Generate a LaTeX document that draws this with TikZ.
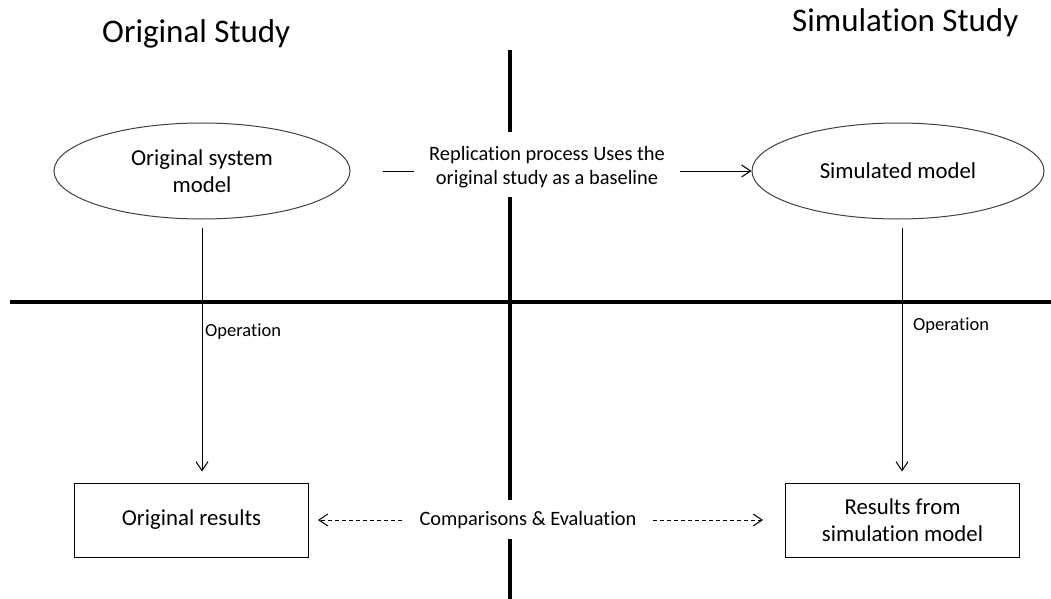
\documentclass[tikz,border=0pt]{standalone}
\usepackage{fontspec}
\setmainfont[Ligatures=NoCommon]{Carlito}
\usetikzlibrary{arrows.meta,shapes.geometric}
\newcommand\ftitle{\fontsize{33}{39}\selectfont}
\newcommand\fnodetext{\fontsize{22.8}{27.5}\selectfont}
\newcommand\flabel{\fontsize{20.4}{24.5}\selectfont}
\newcommand\fop{\fontsize{18.5}{22}\selectfont}
\begin{document}
\begin{tikzpicture}[x=1pt,y=-1pt,
  axisline/.style={line width=4.5pt,black},
  conn/.style={line width=1pt,black,-{Straight Barb[length=9pt,width=12pt,line width=1pt]}},
  plainconn/.style={line width=1pt,black},
  dashconn/.style={line width=1pt,black,dash pattern=on 4pt off 3pt,-{Straight Barb[length=9pt,width=12pt,line width=1pt]}},
  ellnode/.style={ellipse,draw=black!75,line width=1pt,minimum width=296pt,minimum height=96pt,inner sep=0pt,align=center,font=\fnodetext},
  boxnode/.style={rectangle,draw=black,line width=1pt,minimum width=234pt,minimum height=74pt,inner sep=0pt,align=center,font=\fnodetext},
  lbl/.style={inner sep=0pt,align=center}]
\useasboundingbox (0,0) rectangle (1051,599);
% quadrant lines
\coordinate (v1) at (510,50);
\coordinate (v2) at (510,132);
\coordinate (v3) at (510,197);
\coordinate (v4) at (510,500);
\coordinate (v5) at (510,539);
\coordinate (v6) at (510,599);
\coordinate (h1) at (10,302);
\coordinate (h2) at (1051,302);
\draw[axisline] (v1) -- (v2);
\draw[axisline] (v3) -- (v4);
\draw[axisline] (v5) -- (v6);
\draw[axisline] (h1) -- (h2);
% titles
\node[lbl,anchor=base west,font=\ftitle] (t1) at (102,43) {Original Study};
\node[lbl,anchor=base west,font=\ftitle] (t2) at (792,32) {Simulation Study};
% nodes
\node[ellnode] (e1) at (202,171) {Original system\\model};
\node[ellnode,minimum width=292pt] (e2) at (898,171) {Simulated model};
\node[boxnode] (b1) at (191.5,520) {Original results};
\node[boxnode] (b2) at (902.5,520) {Results from\\simulation model};
% replication
\node[lbl,font=\flabel] (rep) at (547,167) {Replication process Uses the\\original study as a baseline};
\coordinate (r1) at (383,171);
\coordinate (r2) at (414,171);
\coordinate (r3) at (680,171);
\draw[plainconn] (r1) -- (r2);
\draw[conn] (r3) -- (r3 -| e2.west);
% operation arrows
\coordinate (o1) at (202,228);
\coordinate (o2) at (902,228);
\draw[conn,shorten >=11pt] (o1) -- (o1 |- b1.north);
\draw[conn,shorten >=11pt] (o2) -- (o2 |- b2.north);
\node[lbl,anchor=west,font=\fop] (op1) at (205,332) {Operation};
\node[lbl,anchor=west,font=\fop] (op2) at (913,326) {Operation};
% comparisons
\node[lbl,font=\flabel] (cmp) at (528,520) {Comparisons \& Evaluation};
\coordinate (d1) at (402,520);
\coordinate (d2) at (653,520);
\draw[dashconn,shorten >=9pt] (d1) -- (b1.east);
\draw[dashconn,shorten >=22pt] (d2) -- (b2.west);
\end{tikzpicture}
\end{document}
